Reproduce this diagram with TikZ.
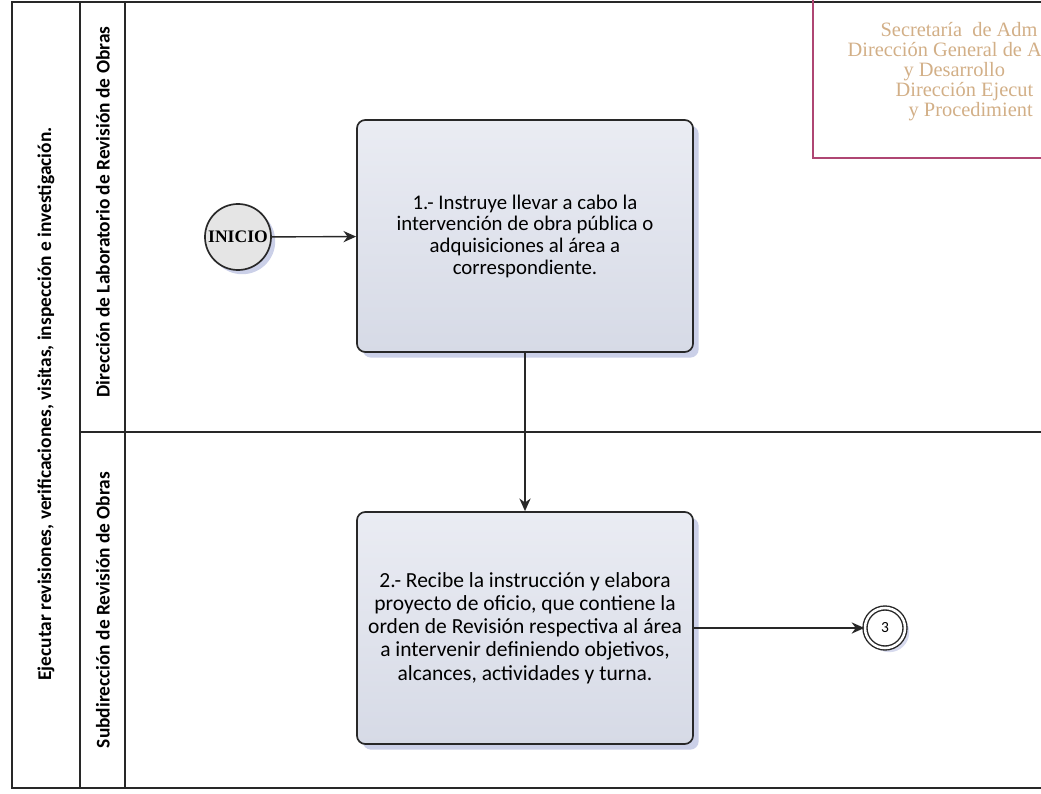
\documentclass[tikz,border=0pt]{standalone}
\usepackage{fontspec}
\setmainfont{Carlito}
\newfontfamily\stampfont{Liberation Serif}
\usetikzlibrary{positioning,shadows,arrows.meta}
\definecolor{frame}{RGB}{40,40,40}
\definecolor{boxtop}{RGB}{234,236,243}
\definecolor{boxbot}{RGB}{214,218,230}
\definecolor{shade}{RGB}{140,150,205}
\definecolor{stampred}{RGB}{175,70,115}
\definecolor{stamptext}{RGB}{210,175,135}

\begin{document}
\begin{tikzpicture}[
    x=0.025cm, y=-0.025cm,
    >={Stealth[length=9pt,width=8pt]},
    line width=0.9pt,
    lanelabel/.style={rotate=90, font=\bfseries\fontsize{13.8}{15}\selectfont},
    task/.style={draw=frame, line width=1.2pt, rounded corners=6pt,
      minimum width=8.4cm, minimum height=5.8cm, align=center,
      top color=boxtop, bottom color=boxbot,
      drop shadow={shadow xshift=4pt, shadow yshift=-4pt, fill=shade, opacity=0.45}},
    start/.style={circle, draw=frame, line width=1.2pt, minimum size=1.65cm,
      inner sep=0pt, fill=black!10,
      font=\stampfont\bfseries\fontsize{12.5}{14}\selectfont,
      drop shadow={shadow xshift=3pt, shadow yshift=-3pt, fill=shade, opacity=0.45}},
    link/.style={circle, double, double distance=1.8pt, draw=frame, line width=1pt,
      minimum size=1.0cm, inner sep=0pt, fill=white, font=\fontsize{11}{12}\selectfont,
      drop shadow={shadow xshift=3pt, shadow yshift=-3pt, fill=shade, opacity=0.35}},
    flow/.style={->, line width=1pt, draw=frame}
  ]
  \useasboundingbox (0,0) rectangle (1041,794);
  \clip (0,0) rectangle (1041,794);

  % pool and lanes
  \draw[frame, line width=1.2pt] (1060,2) -- (12,2) -- (12,788) -- (1060,788);
  \draw[frame, line width=1pt] (80,2) -- (80,788);
  \draw[frame, line width=1pt] (125,2) -- (125,788);
  \draw[frame, line width=1pt] (80,432) -- (1060,432);

  \node[lanelabel] (pool) at (46,404) {Ejecutar revisiones, verificaciones, visitas, inspección e investigación.};
  \node[lanelabel] (laneA) at (103,212) {Dirección de Laboratorio de Revisión de Obras};
  \node[lanelabel] (laneB) at (103,610) {Subdirección de Revisión de Obras};

  % stamp in the corner
  \draw[stampred, line width=0.8pt] (813,0) -- (813,158) -- (1060,158);
  \begin{scope}[stamptext, font=\stampfont\fontsize{14.5}{15}\selectfont]
    \node[anchor=base west, inner sep=0pt] (st1) at (880,37) {Secretaría \ de Adm};
    \node[anchor=base west, inner sep=0pt] (st2) at (847,57) {Dirección General de A};
    \node[anchor=base west, inner sep=0pt] (st3) at (903,77) {y Desarrollo};
    \node[anchor=base west, inner sep=0pt] (st4) at (895,97) {Dirección Ejecut};
    \node[anchor=base west, inner sep=0pt] (st5) at (908,117) {y Procedimient};
  \end{scope}

  % activities
  \node[start] (inicio) at (238,237) {INICIO};
  \node[task, font=\fontsize{14.8}{15.4}\selectfont] (act1) at (525,236)
    {1.- Instruye llevar a cabo la\\intervención de obra pública o\\adquisiciones al área a\\correspondiente.};
  \node[task, font=\fontsize{15.3}{16.5}\selectfont] (act2) at (525,628)
    {2.- Recibe la instrucción y elabora\\proyecto de oficio, que contiene la\\orden de Revisión respectiva al área\\a intervenir definiendo objetivos,\\alcances, actividades y turna.};
  \node[link] (next) at (885,628) {3};

  % connectors
  \draw[flow] (inicio) -- (act1);
  \draw[flow] (act1) -- (act2);
  \draw[flow] (act2) -- (next);
\end{tikzpicture}
\end{document}
